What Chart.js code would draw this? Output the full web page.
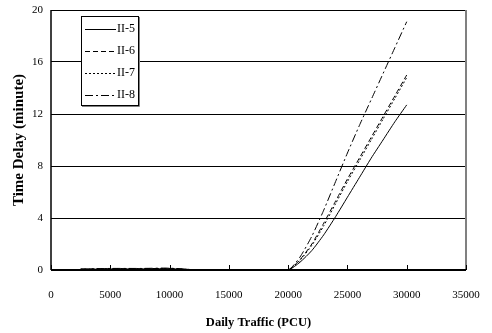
<!DOCTYPE html>
<html>
<head>
<meta charset="utf-8">
<script src="https://cdn.jsdelivr.net/npm/chart.js@4/dist/chart.umd.min.js"></script>
<style>
  html, body { margin: 0; padding: 0; background: #fff; }
  #wrap { width: 492px; height: 333px; }
</style>
</head>
<body>
<div id="wrap"><canvas id="delayChart" width="492" height="333"></canvas></div>
<script>
// daily traffic (PCU)
const traffic = [2500, 5000, 7500, 10000, 12500, 15000, 17500, 20000, 21000, 22000, 23000, 24000, 25000, 26000, 27000, 28000, 29000, 30000];
// time delay (minute)
const delayII5 = [0.05, 0.08, 0.08, 0.1, 0, 0, 0, 0, 0.6, 1.5, 2.7, 4.1, 5.6, 7.1, 8.6, 10.0, 11.4, 12.7];
const delayII6 = [0.06, 0.1, 0.1, 0.12, 0, 0, 0, 0, 0.8, 2.0, 3.6, 5.3, 7.0, 8.6, 10.2, 11.8, 13.4, 15.0];
const delayII7 = [0.06, 0.1, 0.1, 0.12, 0, 0, 0, 0, 0.75, 1.9, 3.4, 5.1, 6.8, 8.4, 10.0, 11.6, 13.2, 14.8];
const delayII8 = [0.07, 0.12, 0.12, 0.14, 0, 0, 0, 0, 1.0, 2.6, 4.6, 6.8, 9.0, 11.1, 13.1, 15.1, 17.1, 19.1];
const seriesNames = ['II-5', 'II-6', 'II-7', 'II-8'];
const xTicks = [0, 5000, 10000, 15000, 20000, 25000, 30000, 35000];
const yTicks = [0, 4, 8, 12, 16, 20];

const serif = '"Liberation Serif", "Times New Roman", serif';
const dashes = [[], [5, 3], [2, 2], [8, 3, 2, 3]];

function pts(ys) {
  return traffic.map((x, i) => ({ x: x, y: ys[i] }));
}

// inward ticks on x axis, frame lines, legend box
const framePlugin = {
  id: 'frame',
  afterDraw(chart) {
    const c = chart.ctx, a = chart.chartArea;
    const xs = chart.scales.x;
    c.save();
    // right border grey
    c.strokeStyle = '#808080';
    c.lineWidth = 2;
    c.beginPath(); c.moveTo(a.right, a.top); c.lineTo(a.right, a.bottom); c.stroke();
    // left axis
    c.strokeStyle = '#000';
    c.lineWidth = 1.5;
    c.beginPath(); c.moveTo(a.left, a.top); c.lineTo(a.left, a.bottom); c.stroke();
    // bottom axis
    c.lineWidth = 2;
    c.beginPath(); c.moveTo(a.left, a.bottom); c.lineTo(a.right, a.bottom); c.stroke();
    // x ticks inward
    c.lineWidth = 1;
    xTicks.forEach(v => {
      const px = Math.round(xs.getPixelForValue(v)) + 0.5;
      c.beginPath(); c.moveTo(px, a.bottom); c.lineTo(px, a.bottom - 5); c.stroke();
    });
    // legend
    const lx = 81, ly = 16, lw = 57, lh = 89;
    c.fillStyle = '#fff';
    c.fillRect(lx, ly, lw, lh);
    c.strokeStyle = '#808080';
    c.lineWidth = 1;
    c.beginPath(); c.moveTo(lx + lw + 1.5, ly + 1); c.lineTo(lx + lw + 1.5, ly + lh + 1.5); c.lineTo(lx + 1, ly + lh + 1.5); c.stroke();
    c.strokeStyle = '#000';
    c.strokeRect(lx + 0.5, ly + 0.5, lw, lh);
    c.font = '12px ' + serif;
    c.fillStyle = '#000';
    c.textBaseline = 'middle';
    const rows = [29, 51, 73, 95];
    chart.data.datasets.forEach((ds, i) => {
      const yy = rows[i] + 0.5;
      c.setLineDash(ds.borderDash || []);
      c.beginPath(); c.moveTo(85, yy); c.lineTo(116, yy); c.stroke();
      c.setLineDash([]);
      c.fillText(ds.label, 117, rows[i]);
    });
    c.restore();
  }
};

new Chart(document.getElementById('delayChart'), {
  type: 'scatter',
  data: {
    datasets: [delayII5, delayII6, delayII7, delayII8].map((ys, i) => ({
      label: seriesNames[i],
      data: pts(ys),
      showLine: true,
      borderColor: '#000',
      borderWidth: 1,
      borderDash: dashes[i],
      pointRadius: 0,
      tension: 0.2
    }))
  },
  options: {
    responsive: false,
    animation: false,
    layout: { padding: { top: 10, right: 26, left: 0, bottom: 0 } },
    plugins: { legend: { display: false }, tooltip: { enabled: false } },
    scales: {
      x: {
        type: 'linear',
        min: 0, max: 35000,
        afterBuildTicks: s => { s.ticks = xTicks.map(v => ({ value: v })); },
        afterFit: s => { s.height = 63; s.paddingLeft = 0; s.paddingRight = 0; },
        border: { display: false },
        grid: { display: false },
        ticks: {
          color: '#000',
          font: { family: serif, size: 11 },
          padding: 11,
          maxRotation: 0,
          callback: v => String(v)
        },
        title: {
          display: true,
          text: 'Daily Traffic (PCU)',
          color: '#000',
          font: { family: serif, size: 12.5, weight: 'bold' },
          padding: { top: 10, bottom: 3 }
        }
      },
      y: {
        min: 0, max: 20,
        afterBuildTicks: s => { s.ticks = yTicks.map(v => ({ value: v })); },
        afterFit: s => { s.width = 51; s.paddingTop = 0; s.paddingBottom = 0; },
        border: { display: false },
        grid: { color: '#000', lineWidth: 1, drawTicks: false },
        ticks: {
          color: '#000',
          font: { family: serif, size: 11 },
          padding: 8
        },
        title: {
          display: true,
          text: 'Time Delay (minute)',
          color: '#000',
          font: { family: serif, size: 15, weight: 'bold' },
          padding: { top: 10, bottom: 0 }
        }
      }
    }
  },
  plugins: [framePlugin]
});
</script>
</body>
</html>
